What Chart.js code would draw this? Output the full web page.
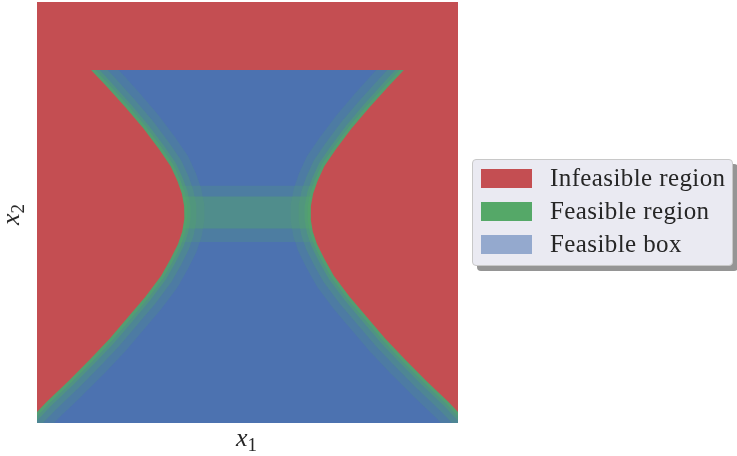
<!DOCTYPE html>
<html>
<head>
<meta charset="utf-8">
<script src="https://cdn.jsdelivr.net/npm/chart.js@4.4.1/dist/chart.umd.min.js"></script>
<style>
  body { margin: 0; background: #fff; }
  #wrap { position: relative; width: 737px; height: 456px; }
  #plot { position: absolute; left: 0; top: 0; }
  .axlabel { position: absolute; font-family: 'Liberation Serif', 'DejaVu Serif', serif; font-size: 26px; color: #262626; white-space: nowrap; }
  .axlabel sub { font-size: 19px; font-style: normal; vertical-align: -5px; }
  #xlabel { left: 236px; top: 423px; }
  #ylabel { left: 2px; top: 198px; transform: rotate(-90deg); }
  #legend {
    position: absolute; left: 472px; top: 159px; width: 259px; height: 105px;
    background: #eaeaf2; border: 1px solid #c8c8c8; border-radius: 4px;
    box-shadow: 5px 5px 0 #959595;
    font-family: 'Liberation Serif', 'DejaVu Serif', serif; font-size: 25px; letter-spacing: 0.4px; color: #262626;
  }
  .item { position: absolute; left: 8px; height: 20px; display: flex; align-items: center; }
  .swatch { width: 51px; height: 19px; margin-right: 18px; }
</style>
</head>
<body>
<div id="wrap">
  <canvas id="plot" width="737" height="456"></canvas>
  <div class="axlabel" id="xlabel"><i>x</i><sub>1</sub></div>
  <div class="axlabel" id="ylabel"><i>x</i><sub>2</sub></div>
  <div id="legend"></div>
</div>
<script>
// boundary of the feasible region: |x1| = halfWidth at each x2 level
const x2Levels  = [0.677, 0.6, 0.5, 0.4, 0.3, 0.22, 0.15, 0.09, 0.03, -0.03, -0.09, -0.15, -0.22, -0.3, -0.4, -0.5, -0.6, -0.7, -0.8, -0.9, -1.0];
const halfWidth = [0.743, 0.67, 0.58, 0.495, 0.42, 0.365, 0.333, 0.312, 0.301, 0.300, 0.310, 0.33, 0.365, 0.41, 0.485, 0.57, 0.655, 0.75, 0.85, 0.955, 1.05];

// feasible box: top edge and the low-confidence band across the middle
const boxTop = 0.677;
const bandOuter = [-0.14, 0.127];
const bandInner = [-0.076, 0.076];

const colors = {
    red: '#c44e52',
    green: '#55a868',
    blue: '#4c72b0'
};

const legendItems = [
    { label: 'Infeasible region', color: '#c44e52' },
    { label: 'Feasible region', color: '#55a868' },
    { label: 'Feasible box', color: 'rgba(76, 114, 176, 0.55)' }
];

// build the polygons from the boundary
const leftEdge = x2Levels.map((y, i) => ({ x: -halfWidth[i], y: y }));
const rightEdge = x2Levels.map((y, i) => ({ x: halfWidth[i], y: y }));

const infeasible = [
    { x: -1.2, y: 1.2 }, { x: 1.2, y: 1.2 }, { x: 1.2, y: -1 },
    ...rightEdge.slice().reverse(),
    ...leftEdge,
    { x: -1.2, y: -1 }
];
const feasibleBox = [...leftEdge, ...rightEdge.slice().reverse()];
const fullRect = [{ x: -1.2, y: -1.2 }, { x: 1.2, y: -1.2 }, { x: 1.2, y: 1.2 }, { x: -1.2, y: 1.2 }];

function strip(lo, hi) {
    return [{ x: -1.2, y: lo }, { x: 1.2, y: lo }, { x: 1.2, y: hi }, { x: -1.2, y: hi }];
}

function area(label, data, color, order) {
    return {
        label: label,
        data: data,
        showLine: true,
        fill: 'shape',
        backgroundColor: color,
        borderColor: 'transparent',
        borderWidth: 0,
        pointRadius: 0,
        pointHitRadius: 0,
        clip: 0,
        order: order
    };
}

// soft green edge along both branches, where the box fades out
const fringe = [];
[[40, 0.18], [24, 0.25], [12, 0.4], [6, 0.6]].forEach(([w, a]) => {
    [leftEdge, rightEdge].forEach(edge => {
        fringe.push({
            label: 'edge',
            data: edge,
            showLine: true,
            fill: false,
            borderColor: 'rgba(85, 168, 104, ' + a + ')',
            borderWidth: w,
            borderJoinStyle: 'round',
            pointRadius: 0,
            pointHitRadius: 0,
            clip: 0,
            order: 2
        });
    });
});

const datasets = [
    area('Infeasible region', infeasible, colors.red, 0),
    area('band', strip(bandOuter[0], bandOuter[1]), 'rgba(85, 168, 104, 0.2)', 1),
    area('band', strip(bandInner[0], bandInner[1]), 'rgba(85, 168, 104, 0.375)', 1),
    ...fringe,
    area('Feasible box', feasibleBox.filter(p => p.y <= boxTop), colors.blue, 5),
    area('Feasible region', fullRect, colors.green, 6)
];

const ctx = document.getElementById('plot').getContext('2d');
new Chart(ctx, {
    type: 'scatter',
    data: { datasets: datasets },
    options: {
        responsive: false,
        animation: false,
        layout: {
            padding: { left: 37, top: 2, right: 279, bottom: 33 }
        },
        plugins: {
            legend: { display: false },
            tooltip: { enabled: false }
        },
        scales: {
            x: { type: 'linear', min: -1, max: 1, display: false },
            y: { type: 'linear', min: -1, max: 1, display: false }
        }
    }
});

// legend box on the right
const legend = document.getElementById('legend');
legendItems.forEach((item, i) => {
    const row = document.createElement('div');
    row.className = 'item';
    row.style.top = (8 + i * 33) + 'px';
    row.innerHTML = '<span class="swatch" style="background:' + item.color + '"></span><span>' + item.label + '</span>';
    legend.appendChild(row);
});
</script>
</body>
</html>
